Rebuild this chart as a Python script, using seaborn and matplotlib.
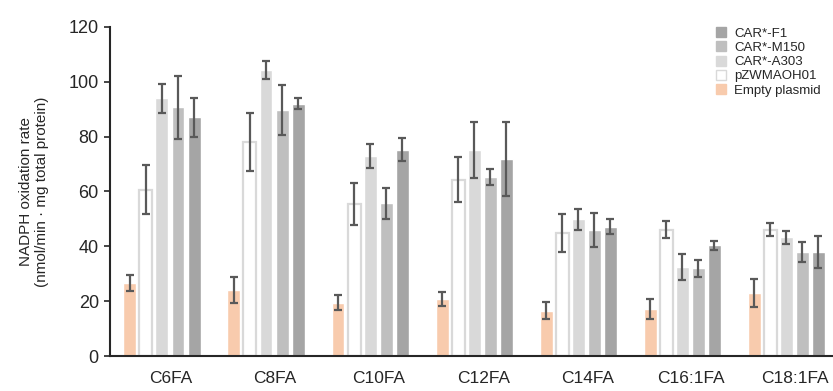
import numpy as np
import pandas as pd
import matplotlib; matplotlib.use("Agg")
import matplotlib.pyplot as plt
from matplotlib.lines import Line2D
import seaborn as sns

# ── DATA ─────────────────────────────────────────────────────────────────────
SUBSTRATES = ["C6FA", "C8FA", "C10FA", "C12FA", "C14FA", "C16:1FA", "C18:1FA"]
STRAINS = ["Empty plasmid", "pZWMAOH01", "CAR*-A303", "CAR*-M150", "CAR*-F1"]

EMPTY      = [26.7, 24.1, 19.5, 20.7, 16.5, 17.1, 22.9]
EMPTY_ERR  = [2.9, 4.7, 2.7, 2.5, 3.1, 3.6, 5.2]
PZW        = [60.6, 78.0, 55.5, 64.3, 44.8, 46.1, 46.0]
PZW_ERR    = [9.0, 10.7, 7.6, 8.1, 7.0, 3.0, 2.4]
A303       = [93.9, 104.3, 72.8, 75.0, 49.8, 32.3, 43.3]
A303_ERR   = [5.3, 3.3, 4.4, 10.3, 3.8, 4.7, 2.4]
M150       = [90.6, 89.6, 55.7, 65.3, 46.0, 31.9, 37.9]
M150_ERR   = [11.6, 9.2, 5.6, 3.0, 6.2, 3.1, 3.7]
F1         = [87.0, 92.0, 75.1, 71.8, 47.1, 40.4, 37.9]
F1_ERR     = [7.0, 2.0, 4.2, 13.6, 2.8, 1.6, 6.0]

VALUES = [EMPTY, PZW, A303, M150, F1]
ERRORS = [EMPTY_ERR, PZW_ERR, A303_ERR, M150_ERR, F1_ERR]

COLORS = ["#F8CBAD", "#FFFFFF", "#D9D9D9", "#BFBFBF", "#A5A5A5"]
EDGE_PZW = "#D9D9D9"
ERR_COLOR = "#595959"

sns.set_style("ticks")
plt.rcParams["font.family"] = ["Liberation Sans", "DejaVu Sans"]

df = pd.DataFrame([
    {"substrate": s, "strain": st, "rate": VALUES[j][i]}
    for j, st in enumerate(STRAINS) for i, s in enumerate(SUBSTRATES)
])

fig = plt.figure(figsize=(8.33, 3.91), dpi=100)
ax = fig.add_axes([0.132, 0.0895, 0.868, 0.842])

sns.barplot(data=df, x="substrate", y="rate", hue="strain",
            order=SUBSTRATES, hue_order=STRAINS,
            palette=dict(zip(STRAINS, COLORS)), saturation=1,
            width=0.77, gap=0.19, errorbar=None, legend=False, ax=ax)

bar_containers = list(ax.containers)
for j, cont in enumerate(bar_containers):
    xs = [b.get_x() + b.get_width() / 2 for b in cont.patches]
    hs = [b.get_height() for b in cont.patches]
    if STRAINS[j] == "pZWMAOH01":
        for b in cont.patches:
            b.set_edgecolor(EDGE_PZW)
            b.set_linewidth(1.6)
    ax.errorbar(xs, hs, yerr=ERRORS[j], fmt="none", ecolor=ERR_COLOR,
                elinewidth=1.6, capsize=3, capthick=1.6, zorder=5)

ax.set_xlim(-0.5, 6.45)
ax.set_ylim(0, 120)
ax.set_yticks(range(0, 121, 20))
ax.set_xticks(np.arange(len(SUBSTRATES)) + 0.087)
ax.set_xticklabels(SUBSTRATES, fontsize=12.5)
ax.tick_params(axis="x", length=0, pad=11)
ax.tick_params(axis="y", labelsize=13, length=4, width=1.2, direction="out", pad=4)
ax.set_xlabel("")
ax.set_ylabel("NADPH oxidation rate\n(nmol/min · mg total protein)",
              fontsize=11, labelpad=14)
sns.despine(ax=ax)
ax.spines["left"].set_linewidth(1.5)
ax.spines["bottom"].set_linewidth(1.5)

handles = []
for st, c in zip(STRAINS[::-1], COLORS[::-1]):
    ec = EDGE_PZW if st == "pZWMAOH01" else c
    handles.append(Line2D([0], [0], marker="s", linestyle="none", markersize=7,
                          markerfacecolor=c, markeredgecolor=ec, markeredgewidth=1.0,
                          label=st))
fig.legend(handles=handles, loc="upper left", bbox_to_anchor=(0.853, 0.943),
           frameon=False, fontsize=9.5, handlelength=0.8, handletextpad=0.6,
           labelspacing=0.15, borderaxespad=0)

fig.savefig("out.png", dpi=100)
